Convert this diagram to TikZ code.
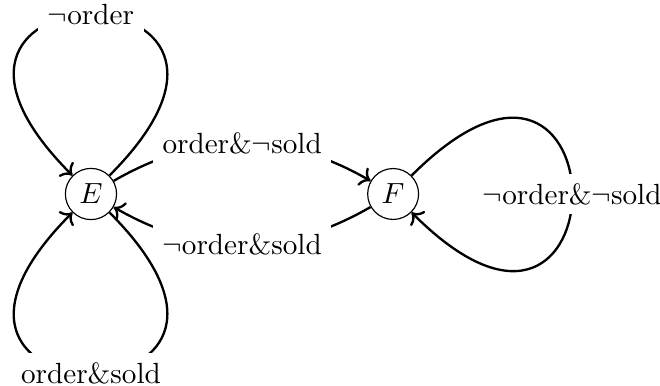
\documentclass[tikz,border=0pt]{standalone}
\usetikzlibrary{arrows.meta}

\begin{document}
\begin{tikzpicture}
    \useasboundingbox (-1.096, -2.313) rectangle (6.855, 2.337);

    \begin{scope}[every node/.style={draw=black,circle,inner sep=2.5pt}]
        \node (E) at (0, 0) {$E$};
        \node (F) at (3.64, 0) {$F$};
    \end{scope}

    \begin{scope}[every edge/.style={draw=black,thick}, every node/.style={fill=white}]
        \path[->] (E) edge[out=45, in=135, distance=3.65cm] node {$\neg$order} (E);
        \path[->] (E) edge[out=-45, in=-135, distance=3.65cm] node {order\&sold} (E);
        \path[->] (E) edge[bend left=30] node {order\&$\neg$sold} (F);
        \path[->] (F) edge[bend left=30] node {$\neg$order\&sold} (E);
        \path[->] (F) edge[out=45, in=-45, distance=3.65cm] node {$\neg$order\&$\neg$sold} (F);
    \end{scope}
\end{tikzpicture}
\end{document}
